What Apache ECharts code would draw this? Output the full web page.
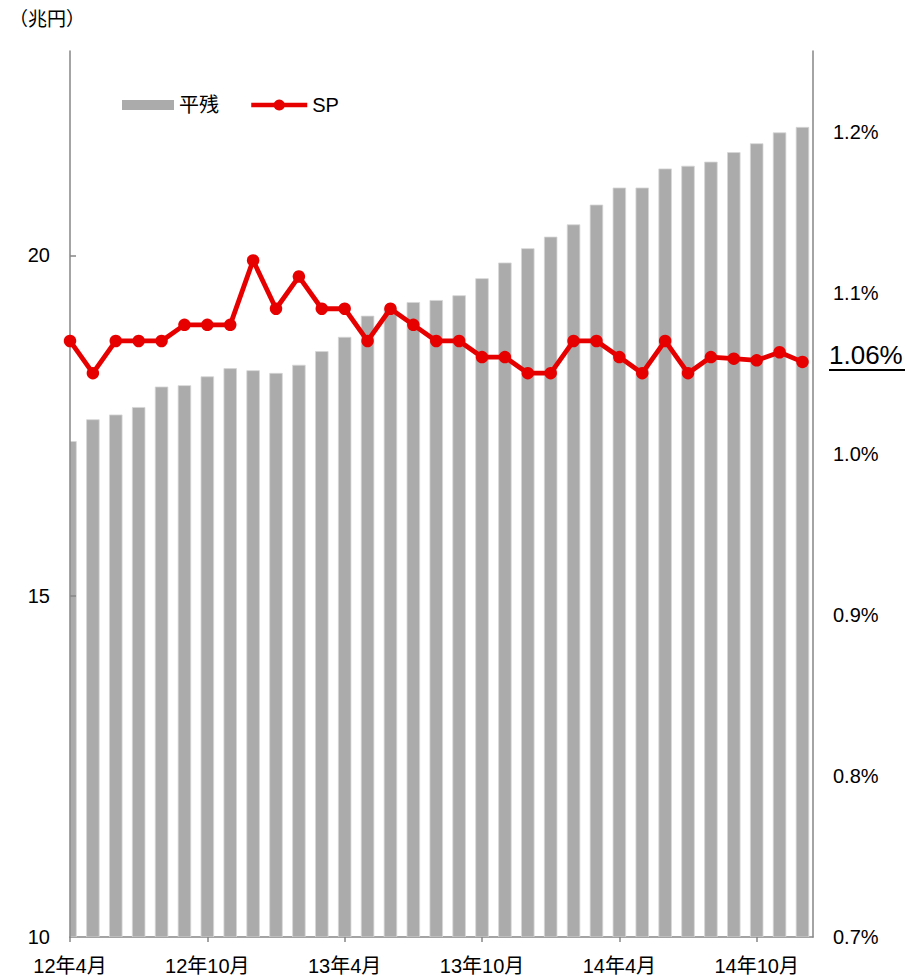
<!DOCTYPE html>
<html>
<head>
<meta charset="utf-8">
<script src="https://cdn.jsdelivr.net/npm/echarts@6/dist/echarts.min.js"></script>
<style>
html,body{margin:0;padding:0;background:#fff;}
#chart{width:907px;height:977px;}
</style>
</head>
<body>
<div id="chart"></div>
<script>
// Months from 12年4月 to 14年12月
const categories = [
  '12年4月','12年5月','12年6月','12年7月','12年8月','12年9月','12年10月','12年11月','12年12月',
  '13年1月','13年2月','13年3月','13年4月','13年5月','13年6月','13年7月','13年8月','13年9月',
  '13年10月','13年11月','13年12月','14年1月','14年2月','14年3月','14年4月','14年5月','14年6月',
  '14年7月','14年8月','14年9月','14年10月','14年11月','14年12月'
];
// 平残 (兆円)
const balance = [
  17.27, 17.59, 17.66, 17.77, 18.07, 18.09, 18.22, 18.34, 18.31, 18.27, 18.39,
  18.59, 18.80, 19.11, 19.22, 19.31, 19.34, 19.41, 19.66, 19.89, 20.10, 20.27,
  20.45, 20.74, 20.99, 20.99, 21.27, 21.31, 21.37, 21.51, 21.64, 21.80, 21.88
];
// SP (%)
const sp = [
  1.07, 1.05, 1.07, 1.07, 1.07, 1.08, 1.08, 1.08, 1.12, 1.09, 1.11,
  1.09, 1.09, 1.07, 1.09, 1.08, 1.07, 1.07, 1.06, 1.06, 1.05, 1.05,
  1.07, 1.07, 1.06, 1.05, 1.07, 1.05, 1.06, 1.059, 1.058, 1.063, 1.057
];
const xTickIndex = [0, 6, 12, 18, 24, 30];
const leftTicks = [10, 15, 20];
const rightTicks = [0.7, 0.8, 0.9, 1.0, 1.1, 1.2];
const unitLabel = '（兆円）';
const lastLabel = '1.06%';

const FONT = "'Liberation Sans', Arial, 'Noto Sans CJK JP', sans-serif";
const AXIS_COLOR = '#868686';
const BAR_WIDTH = 12.6;

const chart = echarts.init(document.getElementById('chart'), null, {renderer: 'svg'});
chart.setOption({
  animation: false,
  backgroundColor: '#fff',
  textStyle: {fontFamily: FONT},
  grid: {left: 70, right: 94, top: 51, bottom: 40, containLabel: false},
  legend: [
    {
      left: 122, top: 95, padding: 0,
      icon: 'rect', itemWidth: 52, itemHeight: 10,
      textStyle: {fontSize: 20, color: '#000', fontFamily: FONT},
      data: ['平残']
    },
    {
      left: 249, top: 95, padding: 0,
      itemWidth: 56, itemHeight: 14,
      lineStyle: {width: 4.5},
      textStyle: {fontSize: 20, color: '#000', fontFamily: FONT},
      data: ['SP']
    }
  ],
  xAxis: {
    type: 'value',
    min: 0, max: 32.46,
    axisLine: {show: true, onZero: false, lineStyle: {color: AXIS_COLOR, width: 1.5}},
    axisTick: {show: true, length: 5, inside: false, customValues: xTickIndex, lineStyle: {color: AXIS_COLOR, width: 1.5}},
    axisLabel: {
      customValues: xTickIndex, margin: 19,
      fontSize: 20, color: '#000', fontFamily: FONT,
      formatter: v => categories[Math.round(v)]
    },
    splitLine: {show: false}
  },
  yAxis: [
    {
      type: 'value', min: 10, max: 23, position: 'left', z: 2,
      axisLine: {show: true, lineStyle: {color: AXIS_COLOR, width: 1.5}},
      axisTick: {show: true, inside: true, length: 6, customValues: [15, 20], lineStyle: {color: AXIS_COLOR, width: 1.5}},
      axisLabel: {customValues: leftTicks, margin: 20, fontSize: 20, color: '#000', fontFamily: FONT},
      splitLine: {show: false}
    },
    {
      type: 'value', min: 0.7, max: 1.25, position: 'right', z: 2,
      axisLine: {show: true, lineStyle: {color: AXIS_COLOR, width: 1.5}},
      axisTick: {show: false},
      axisLabel: {
        customValues: rightTicks, margin: 20, fontSize: 20, color: '#000', fontFamily: FONT,
        formatter: v => v.toFixed(1) + '%'
      },
      splitLine: {show: false}
    }
  ],
  series: [
    {
      name: '平残', type: 'custom', yAxisIndex: 0, z: 1,
      clip: true,
      itemStyle: {color: '#ABABAB'},
      encode: {x: 0, y: 1},
      renderItem: function (params, api) {
        const x = api.value(0), y = api.value(1);
        const top = api.coord([x, y]);
        const base = api.coord([x, 10]);
        const cs = params.coordSys;
        let x0 = top[0] - BAR_WIDTH / 2;
        let x1 = top[0] + BAR_WIDTH / 2;
        x0 = Math.max(x0, cs.x);
        x1 = Math.min(x1, cs.x + cs.width);
        return {
          type: 'rect',
          shape: {x: x0, y: top[1], width: x1 - x0, height: base[1] - top[1]},
          style: {fill: api.visual('color'), stroke: '#D6D6D6', lineWidth: 0.8}
        };
      },
      data: balance.map((v, i) => [i, v])
    },
    {
      name: 'SP', type: 'line', yAxisIndex: 1, z: 3,
      symbol: 'circle', symbolSize: 12.5,
      lineStyle: {color: '#E60000', width: 4.8},
      itemStyle: {color: '#E60000'},
      clip: false,
      data: sp.map((v, i) => [i, v])
    }
  ],
  graphic: [
    {type: 'text', left: 9, top: 8, style: {text: unitLabel, fontSize: 19, fill: '#000', fontFamily: "'Noto Sans CJK JP', sans-serif"}},
    {type: 'text', left: 829, top: 342, style: {text: lastLabel, fontSize: 26, fill: '#000', fontFamily: FONT}},
    {type: 'line', shape: {x1: 829, y1: 370, x2: 905, y2: 370}, style: {stroke: '#000', lineWidth: 2}}
  ]
});
</script>
</body>
</html>
